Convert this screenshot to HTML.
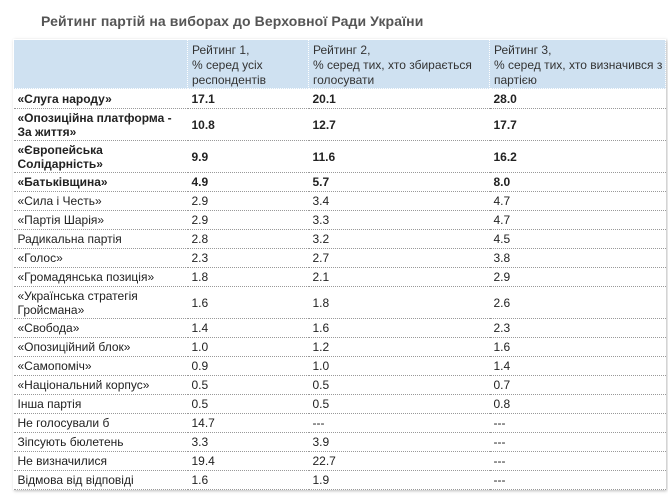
<!DOCTYPE html>
<html><head><meta charset="utf-8"><style>
body{margin:0;background:#fff;width:668px;height:502px;overflow:hidden;font-family:"Liberation Sans",Arial,sans-serif;}
h1{position:absolute;left:41px;top:13px;margin:0;font-size:14px;font-weight:bold;color:#555;letter-spacing:0.1px;}
table{position:absolute;left:13px;top:39px;width:652px;border-collapse:collapse;table-layout:fixed;font-size:12px;color:#222;box-shadow:1px 1px 3px #bbb;}
td{padding:0 2px 0 4px;vertical-align:middle;line-height:14px;border-bottom:1px dotted #999;height:18px;}
tr.d td{height:31px;}
tr.h td{background:#cfe1f1;border:1px dotted #fff;height:44px;color:#333;vertical-align:top;padding-top:3px;line-height:15px;white-space:nowrap;}
tr.bold td{font-weight:bold;}
</style></head><body>
<h1>Рейтинг партій на виборах до Верховної Ради України</h1>
<table>
<colgroup><col style="width:174px"><col style="width:121px"><col style="width:181px"><col style="width:176px"></colgroup>
<tr class="h"><td></td><td>Рейтинг 1,<br>% серед усіх<br>респондентів</td><td>Рейтинг 2,<br>% серед тих, хто збирається<br>голосувати</td><td>Рейтинг 3,<br>% серед тих, хто визначився з<br>партією</td></tr>
<tr class="bold"><td style="height:19px">«Слуга народу»</td><td>17.1</td><td>20.1</td><td>28.0</td></tr>
<tr class="bold d"><td>«Опозиційна платформа - За життя»</td><td>10.8</td><td>12.7</td><td>17.7</td></tr>
<tr class="bold d"><td>«Європейська Солідарність»</td><td>9.9</td><td>11.6</td><td>16.2</td></tr>
<tr class="bold"><td>«Батьківщина»</td><td>4.9</td><td>5.7</td><td>8.0</td></tr>
<tr><td>«Сила і Честь»</td><td>2.9</td><td>3.4</td><td>4.7</td></tr>
<tr><td>«Партія Шарія»</td><td>2.9</td><td>3.3</td><td>4.7</td></tr>
<tr><td>Радикальна партія</td><td>2.8</td><td>3.2</td><td>4.5</td></tr>
<tr><td>«Голос»</td><td>2.3</td><td>2.7</td><td>3.8</td></tr>
<tr><td>«Громадянська позиція»</td><td>1.8</td><td>2.1</td><td>2.9</td></tr>
<tr class="d"><td>«Українська стратегія Гройсмана»</td><td>1.6</td><td>1.8</td><td>2.6</td></tr>
<tr><td>«Свобода»</td><td>1.4</td><td>1.6</td><td>2.3</td></tr>
<tr><td>«Опозиційний блок»</td><td>1.0</td><td>1.2</td><td>1.6</td></tr>
<tr><td>«Самопоміч»</td><td>0.9</td><td>1.0</td><td>1.4</td></tr>
<tr><td>«Національний корпус»</td><td>0.5</td><td>0.5</td><td>0.7</td></tr>
<tr><td>Інша партія</td><td>0.5</td><td>0.5</td><td>0.8</td></tr>
<tr><td>Не голосували б</td><td>14.7</td><td>---</td><td>---</td></tr>
<tr><td>Зіпсують бюлетень</td><td>3.3</td><td>3.9</td><td>---</td></tr>
<tr><td>Не визначилися</td><td>19.4</td><td>22.7</td><td>---</td></tr>
<tr><td>Відмова від відповіді</td><td>1.6</td><td>1.9</td><td>---</td></tr>
</table>
</body></html>
